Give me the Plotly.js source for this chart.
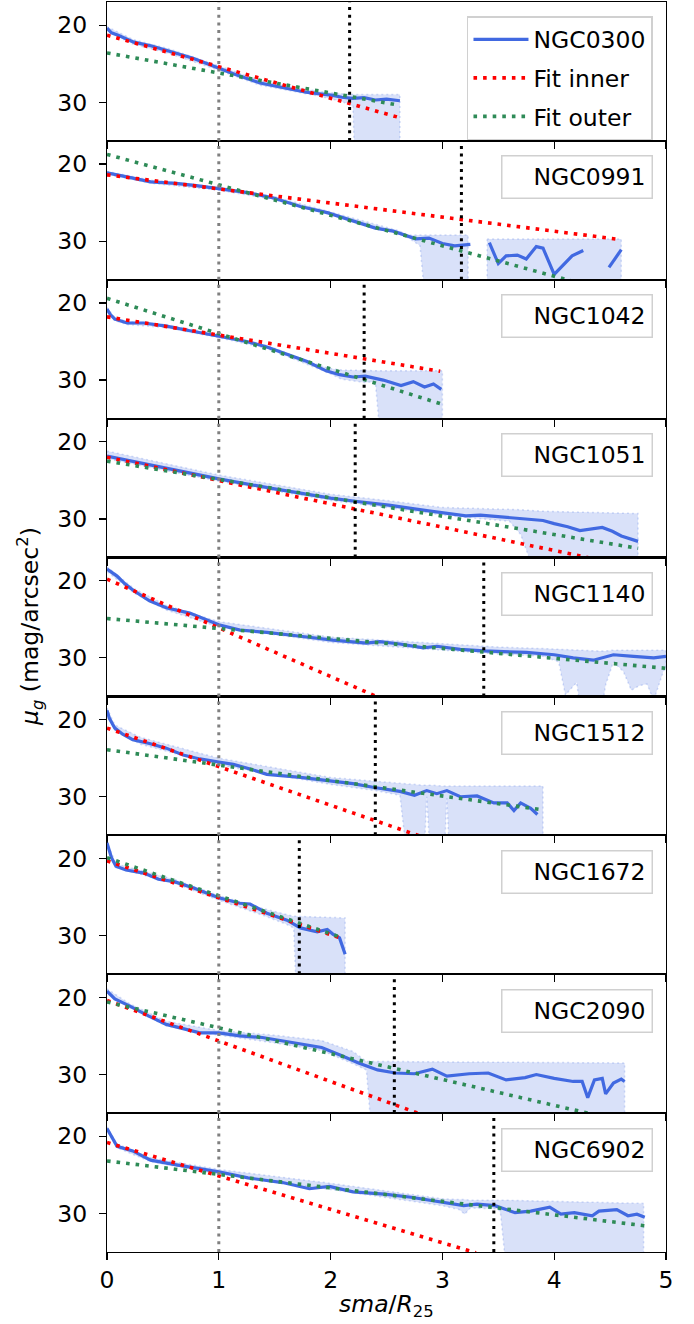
<!DOCTYPE html>
<html><head><meta charset="utf-8">
<script src="https://cdn.plot.ly/plotly-3.0.1.min.js"></script>
<style>html,body{margin:0;padding:0;background:#fff}</style>
</head><body><div id="chart" style="width:694px;height:1324px"></div>
<script>
// ---------------- data ----------------
const galaxyNames = ['NGC0300','NGC0991','NGC1042','NGC1051','NGC1140','NGC1512','NGC1672','NGC2090','NGC6902'];

// NGC0300
const sma0300 = [0, 0.04, 0.1, 0.24, 0.4, 0.54, 0.77, 0.95, 1.13, 1.37, 1.61, 1.78, 2.02, 2.1, 2.2, 2.3, 2.4, 2.5, 2.62];
const mu0300  = [20.4, 21.0, 21.3, 22.2, 22.7, 23.3, 24.3, 25.3, 26.3, 27.5, 28.2, 28.7, 29.1, 29.35, 29.5, 29.4, 29.7, 29.6, 29.8];
const bandX0300  = [0, 0.24, 0.54, 0.95, 1.37, 1.9, 2.1, 2.2, 2.22, 2.62];
const bandHi0300 = [20.2, 21.9, 23.0, 25.0, 27.2, 28.6, 28.9, 29.0, 29.0, 29.0];
const bandLo0300 = [20.8, 22.5, 23.6, 25.6, 27.8, 29.2, 29.9, 30.5, 40, 40];

// NGC0991
const sma0991 = [0, 0.1, 0.19, 0.39, 0.62, 0.8, 1.0, 1.26, 1.49, 1.73, 1.97, 2.17, 2.4, 2.56, 2.68, 2.76, 2.88, 3.0, 3.11, 3.25, 3.32, 3.42, 3.5, 3.57, 3.67, 3.75, 3.84, 3.9, 4.0, 4.16, 4.26, 4.38, 4.49, 4.6];
const mu0991  = [21.15, 21.4, 21.7, 22.3, 22.5, 22.8, 23.2, 23.7, 24.4, 25.5, 26.3, 27.2, 28.3, 28.7, 29.3, 29.7, 29.6, 30.3, 30.6, 30.4, null, 30.2, 32.9, 31.9, 31.8, 32.3, 30.7, 30.9, 34.3, 31.9, 31.2, null, 33.4, 31.1];
const bandX0991  = [0, 0.39, 1, 1.49, 2, 2.6, 2.7, 2.8, 2.86, 3.23, null, 3.4, 4.6];
const bandHi0991 = [20.95, 22.1, 23.0, 24.2, 26.2, 28.6, 29.2, 29.2, 29.2, 29.2, null, 29.7, 29.7];
const bandLo0991 = [21.35, 22.5, 23.4, 24.6, 26.6, 28.9, 29.6, 30.6, 40, 40, null, 40, 40];

// NGC1042
const sma1042 = [0, 0.03, 0.07, 0.18, 0.33, 0.53, 0.74, 1.0, 1.25, 1.43, 1.61, 1.79, 1.96, 2.08, 2.2, 2.31, 2.47, 2.63, 2.74, 2.84, 2.92, 2.99];
const mu1042  = [20.8, 21.5, 22.1, 22.6, 22.6, 23.0, 23.6, 24.3, 25.0, 25.7, 26.6, 27.6, 28.8, 29.3, 29.6, 29.5, 30.0, 30.7, 30.2, 30.9, 30.5, 31.2];
const bandX1042  = [0, 0.07, 0.18, 0.53, 1, 1.43, 1.9, 2.0, 2.1, 2.3, 2.4, 2.46, 3.0];
const bandHi1042 = [20.6, 21.9, 22.4, 22.8, 24.1, 25.5, 28.1, 28.5, 28.7, 28.8, 28.8, 28.8, 28.8];
const bandLo1042 = [21.0, 22.3, 22.8, 23.2, 24.5, 25.9, 28.6, 29.2, 29.9, 30.3, 30.2, 40, 40];

// NGC1051
const sma1051 = [0, 0.25, 0.5, 0.75, 1.0, 1.5, 2.0, 2.22, 2.52, 2.75, 3.0, 3.21, 3.34, 3.6, 3.77, 3.9, 4.0, 4.12, 4.23, 4.33, 4.43, 4.52, 4.6, 4.75];
const mu1051  = [21.85, 22.6, 23.3, 24.0, 24.8, 26.1, 27.3, 27.7, 28.2, 28.7, 29.2, 29.6, 29.5, 29.85, 30.1, 30.2, 30.6, 31.0, 31.5, 31.3, 31.1, 31.6, 32.2, 32.9];
const bandX1051  = [0, 1, 2, 2.5, 3.0, 3.3, 3.6, 3.7, 3.9, 4.75];
const bandHi1051 = [21.2, 24.3, 26.8, 27.6, 28.5, 28.6, 28.7, 28.8, 29.0, 29.3];
const bandLo1051 = [22.2, 25.1, 27.6, 28.5, 29.5, 29.9, 30.3, 32.0, 40, 40];

// NGC1140
const sma1140 = [0, 0.04, 0.09, 0.16, 0.24, 0.38, 0.53, 0.74, 0.83, 1.0, 1.19, 1.43, 1.73, 2.02, 2.32, 2.44, 2.62, 2.83, 2.95, 3.16, 3.37, 3.75, 4.0, 4.17, 4.35, 4.53, 4.71, 4.89, 5.0];
const mu1140  = [18.5, 18.9, 19.4, 20.4, 21.3, 22.6, 23.5, 24.2, 24.7, 25.7, 26.4, 26.7, 27.2, 27.7, 28.1, 27.9, 28.2, 28.7, 28.5, 28.9, 29.1, 29.3, 29.6, 30.0, 30.3, 29.6, 29.8, 30.0, 29.8];
const bandX1140  = [0, 0.24, 0.53, 1, 2, 3, 3.5, 3.9, 4.04, 4.1, 4.2, 4.27, 4.39, 4.46, 4.53, 4.62, 4.69, 4.76, 4.83, 4.89, 4.98, 5.0];
const bandHi1140 = [18.2, 21.0, 23.2, 25.3, 27.3, 28.2, 28.6, 28.8, 28.9, 28.9, 29.0, 29.0, 29.1, 29.1, 29.0, 29.0, 29.0, 29.0, 29.0, 29.0, 29.0, 29.0];
const bandLo1140 = [18.8, 21.6, 23.8, 26.0, 28.0, 29.0, 29.5, 29.8, 30.5, 34.8, 33.2, 40, 40, 33.5, 30.5, 31.8, 34.2, 33.6, 33.4, 35.5, 31.6, 31.5];

// NGC1512
const sma1512 = [0, 0.02, 0.05, 0.07, 0.14, 0.23, 0.38, 0.53, 0.68, 0.83, 1.0, 1.13, 1.28, 1.43, 1.73, 2.02, 2.2, 2.39, 2.62, 2.75, 2.86, 2.95, 3.04, 3.16, 3.31, 3.46, 3.58, 3.64, 3.7, 3.79, 3.85];
const mu1512  = [18.8, 19.8, 20.6, 21.1, 21.9, 22.6, 23.1, 23.7, 24.6, 25.1, 25.5, 25.8, 26.4, 27.1, 27.5, 28.0, 28.3, 28.8, 29.3, 29.8, 29.2, 29.6, 29.2, 30.0, 29.9, 30.8, 30.8, 31.8, 30.8, 31.5, 32.3];
const bandX1512  = [0, 0.07, 0.3, 1, 2, 2.4, 2.62, 2.7, 2.83, 2.86, 2.9, 3.01, 3.04, 3.07, 3.9];
const bandHi1512 = [18.5, 20.7, 22.3, 25.0, 27.5, 28.0, 28.3, 28.4, 28.5, 28.5, 28.5, 28.6, 28.6, 28.6, 28.6];
const bandLo1512 = [19.0, 21.4, 23.2, 25.9, 28.4, 29.2, 29.8, 40, 40, 30.0, 40, 40, 30.2, 40, 40];

// NGC1672
const sma1672 = [0, 0.04, 0.08, 0.17, 0.33, 0.46, 0.6, 0.77, 1.0, 1.19, 1.28, 1.43, 1.61, 1.73, 1.88, 1.97, 2.02, 2.08, 2.13];
const mu1672  = [18.0, 19.9, 21.0, 21.5, 21.9, 22.7, 23.0, 23.8, 25.1, 25.8, 25.9, 27.1, 28.0, 29.0, 29.5, 29.2, 29.8, 30.3, 32.4];
const bandX1672  = [0, 0.08, 0.6, 1, 1.4, 1.6, 1.67, 1.7, 2.13];
const bandHi1672 = [17.8, 20.7, 22.7, 24.8, 26.5, 27.3, 27.5, 27.5, 27.7];
const bandLo1672 = [18.2, 21.2, 23.2, 25.4, 27.4, 28.5, 29.0, 40, 40];

// NGC2090
const sma2090 = [0, 0.07, 0.2, 0.37, 0.53, 0.7, 0.83, 1.0, 1.19, 1.39, 1.59, 1.79, 1.92, 2.09, 2.25, 2.42, 2.58, 2.75, 2.91, 3.04, 3.24, 3.41, 3.57, 3.74, 3.84, 4.0, 4.17, 4.25, 4.3, 4.36, 4.43, 4.46, 4.53, 4.6, 4.63];
const mu2090  = [19.2, 20.2, 21.1, 22.4, 23.5, 24.1, 24.6, 24.6, 25.0, 25.2, 25.7, 26.1, 26.5, 27.5, 28.5, 29.4, 29.8, 29.9, 29.3, 30.2, 29.9, 29.8, 30.7, 30.4, 30.0, 30.5, 30.9, 30.9, 33.0, 30.7, 30.5, 32.5, 31.1, 30.6, 30.9];
const bandX2090  = [0, 0.2, 0.53, 1, 1.5, 1.92, 2.2, 2.32, 2.38, 4.63];
const bandHi2090 = [18.9, 20.8, 23.1, 24.3, 24.9, 25.6, 27.0, 28.3, 28.3, 28.5];
const bandLo2090 = [19.5, 21.3, 23.7, 24.9, 25.9, 26.9, 28.6, 29.4, 40, 40];

// NGC6902
const sma6902 = [0, 0.04, 0.09, 0.23, 0.3, 0.39, 0.62, 1.0, 1.26, 1.57, 1.81, 1.99, 2.2, 2.48, 2.72, 3.0, 3.19, 3.31, 3.47, 3.65, 3.79, 3.96, 4.06, 4.18, 4.34, 4.4, 4.56, 4.66, 4.74, 4.81];
const mu6902  = [19.0, 20.1, 21.3, 21.9, 22.4, 23.1, 23.7, 24.6, 25.4, 26.0, 26.8, 26.5, 27.2, 27.5, 27.9, 28.6, 29.0, 28.8, 29.0, 29.9, 29.7, 29.2, 30.1, 29.9, 30.3, 29.7, 29.5, 30.3, 30.1, 30.5];
const bandX6902  = [0, 0.09, 0.39, 1, 2, 3.0, 3.15, 3.2, 3.25, 3.5, 3.52, 3.59, 4.8];
const bandHi6902 = [18.8, 21.0, 22.8, 24.3, 26.1, 28.1, 28.2, 28.2, 28.3, 28.3, 28.3, 28.3, 28.7];
const bandLo6902 = [19.3, 21.5, 23.3, 24.9, 26.9, 29.0, 29.5, 30.1, 29.3, 29.4, 30.0, 40, 40];

// Fit lines (end points)
const fitInnerX = [[0, 2.62], [0, 4.6], [0, 2.98], [0, 4.75], [0, 2.6], [0, 2.9], [0, 2.11], [0, 2.8], [0, 3.3]];
const fitInnerY = [[21.3, 32.0], [21.4, 29.8], [21.8, 28.85], [22.0, 36.35], [19.8, 36.2], [21.1, 35.6], [20.3, 30.4], [20.4, 35.1], [20.8, 35.1]];
const fitOuterX = [[0, 2.62], [0, 4.6], [0, 2.98], [0, 4.75], [0, 5.0], [0, 3.9], [0, 2.11], [0, 4.63], [0, 4.81]];
const fitOuterY = [[23.6, 30.4], [18.75, 36.9], [19.4, 33.05], [22.5, 33.8], [24.9, 31.35], [23.9, 31.7], [19.9, 30.3], [20.6, 36.1], [23.2, 31.6]];

// Break radii (black dotted) and R25 marker (grey dotted)
const breakRadius = [2.17, 3.17, 2.30, 2.22, 3.37, 2.40, 1.72, 2.57, 3.46];
const r25Line = 1;

const smaList  = [sma0300, sma0991, sma1042, sma1051, sma1140, sma1512, sma1672, sma2090, sma6902];
const muList   = [mu0300, mu0991, mu1042, mu1051, mu1140, mu1512, mu1672, mu2090, mu6902];
const bandXList  = [bandX0300, bandX0991, bandX1042, bandX1051, bandX1140, bandX1512, bandX1672, bandX2090, bandX6902];
const bandHiList = [bandHi0300, bandHi0991, bandHi1042, bandHi1051, bandHi1140, bandHi1512, bandHi1672, bandHi2090, bandHi6902];
const bandLoList = [bandLo0300, bandLo0991, bandLo1042, bandLo1051, bandLo1140, bandLo1512, bandLo1672, bandLo2090, bandLo6902];

const yTicks = [20, 30];
const xTicks = [0, 1, 2, 3, 4, 5];

// ---------------- build ----------------
const FONT = 'DejaVu Sans';
const FS = 23.5;
const BLUE = '#4169e1';
const N = galaxyNames.length;

function bandPolygon(bx, hi, lo) {
  const xs = [], ys = [];
  let seg = [];
  const flush = () => {
    if (seg.length) {
      if (xs.length) { xs.push(null); ys.push(null); }
      seg.forEach(i => { xs.push(bx[i]); ys.push(hi[i]); });
      seg.slice().reverse().forEach(i => { xs.push(bx[i]); ys.push(lo[i]); });
      xs.push(bx[seg[0]]); ys.push(hi[seg[0]]);
    }
    seg = [];
  };
  bx.forEach((v, i) => { if (v === null) flush(); else seg.push(i); });
  flush();
  return {xs, ys};
}

const traces = [];
const shapes = [];
const annotations = [];
const layout = {
  width: 694, height: 1324,
  margin: {l: 107, r: 28, t: 2, b: 72},
  paper_bgcolor: '#fff', plot_bgcolor: 'rgba(0,0,0,0)',
  font: {family: FONT, size: FS, color: '#000'},
  showlegend: true,
  legend: {
    x: 0.9767, xanchor: 'right', y: 0.9888, yanchor: 'top',
    bordercolor: '#d0d0d0', borderwidth: 1.5, bgcolor: 'rgba(255,255,255,0.85)',
    font: {family: FONT, size: FS}, tracegroupgap: 5, itemwidth: 55
  }
};

for (let i = 0; i < N; i++) {
  const n = i + 1;
  const xa = 'x' + (n === 1 ? '' : n), ya = 'y' + (n === 1 ? '' : n);
  const xKey = 'xaxis' + (n === 1 ? '' : n), yKey = 'yaxis' + (n === 1 ? '' : n);
  const top = 1 - i / N, bot = 1 - (i + 1) / N;
  layout[xKey] = {
    domain: [0, 1], anchor: ya, range: [0, 5], tickvals: xTicks, ticktext: xTicks.map(String),
    ticks: 'outside', ticklen: 7, tickwidth: 1.2, tickcolor: '#000',
    showline: true, mirror: true, linecolor: '#000', linewidth: 1.1,
    showgrid: false, zeroline: false, showticklabels: i === N - 1,
    tickfont: {family: FONT, size: FS}, fixedrange: true
  };
  if (i > 0) layout[xKey].matches = 'x';
  layout[yKey] = {
    domain: [bot, top], anchor: xa, range: [35, 17], tickvals: yTicks, ticktext: yTicks.map(String),
    ticks: 'outside', ticklen: 7, tickwidth: 1.2, tickcolor: '#000', ticklabelstandoff: 7,
    showline: true, mirror: true, linecolor: '#000', linewidth: 1.1,
    showgrid: false, zeroline: false, tickfont: {family: FONT, size: FS}, fixedrange: true
  };

  const poly = bandPolygon(bandXList[i], bandHiList[i], bandLoList[i]);
  traces.push({
    x: poly.xs, y: poly.ys, xaxis: xa, yaxis: ya, mode: 'lines', fill: 'toself',
    fillcolor: 'rgba(65,105,225,0.2)', line: {color: 'rgba(65,105,225,0.22)', width: 1.5, dash: '2px,3px'},
    showlegend: false, hoverinfo: 'skip', connectgaps: false
  });
  traces.push({
    x: smaList[i], y: muList[i], xaxis: xa, yaxis: ya, mode: 'lines', name: galaxyNames[i],
    line: {color: BLUE, width: 3.2}, connectgaps: false, showlegend: i === 0, legendgroup: 'g1'
  });
  traces.push({
    x: fitInnerX[i], y: fitInnerY[i], xaxis: xa, yaxis: ya, mode: 'lines', name: 'Fit inner',
    line: {color: '#ff0000', width: 3.6, dash: '3.6px,6px'}, showlegend: i === 0, legendgroup: 'g2'
  });
  traces.push({
    x: fitOuterX[i], y: fitOuterY[i], xaxis: xa, yaxis: ya, mode: 'lines', name: 'Fit outer',
    line: {color: '#2e8b57', width: 3.6, dash: '3.6px,6px'}, showlegend: i === 0, legendgroup: 'g3'
  });

  shapes.push({type: 'line', xref: xa, yref: ya + ' domain', x0: r25Line, x1: r25Line, y0: 0, y1: 1,
    line: {color: '#808080', width: 3, dash: '3px,4.7px'}, layer: 'above'});
  shapes.push({type: 'line', xref: xa, yref: ya + ' domain', x0: breakRadius[i], x1: breakRadius[i], y0: 0, y1: 1,
    line: {color: '#000', width: 3, dash: '3px,4.7px'}, layer: 'above'});

  if (i > 0) {
    annotations.push({
      xref: xa + ' domain', yref: ya + ' domain', x: 0.9767, xanchor: 'right', y: 0.895, yanchor: 'top',
      text: galaxyNames[i], showarrow: false, align: 'right', width: 137, height: 29,
      bordercolor: '#d0d0d0', borderwidth: 1.5, borderpad: 6, bgcolor: 'rgba(255,255,255,0.85)',
      font: {family: FONT, size: FS}
    });
  }
}

annotations.push({
  xref: 'paper', yref: 'paper', x: -0.1377, xanchor: 'center', y: 0.5, yanchor: 'middle',
  text: '<i>μ</i><sub><i>g</i></sub> (mag/arcsec<sup>2</sup>)', textangle: -90, showarrow: false,
  font: {family: FONT, size: FS}
});
annotations.push({
  xref: 'paper', yref: 'paper', x: 0.5, xanchor: 'center', y: -0.0424, yanchor: 'middle',
  text: '<i>sma</i>/<i>R</i><sub>25</sub>', showarrow: false,
  font: {family: FONT, size: FS}
});

layout.shapes = shapes;
layout.annotations = annotations;

Plotly.newPlot('chart', traces, layout, {displayModeBar: false, staticPlot: true});
</script>
</body></html>
